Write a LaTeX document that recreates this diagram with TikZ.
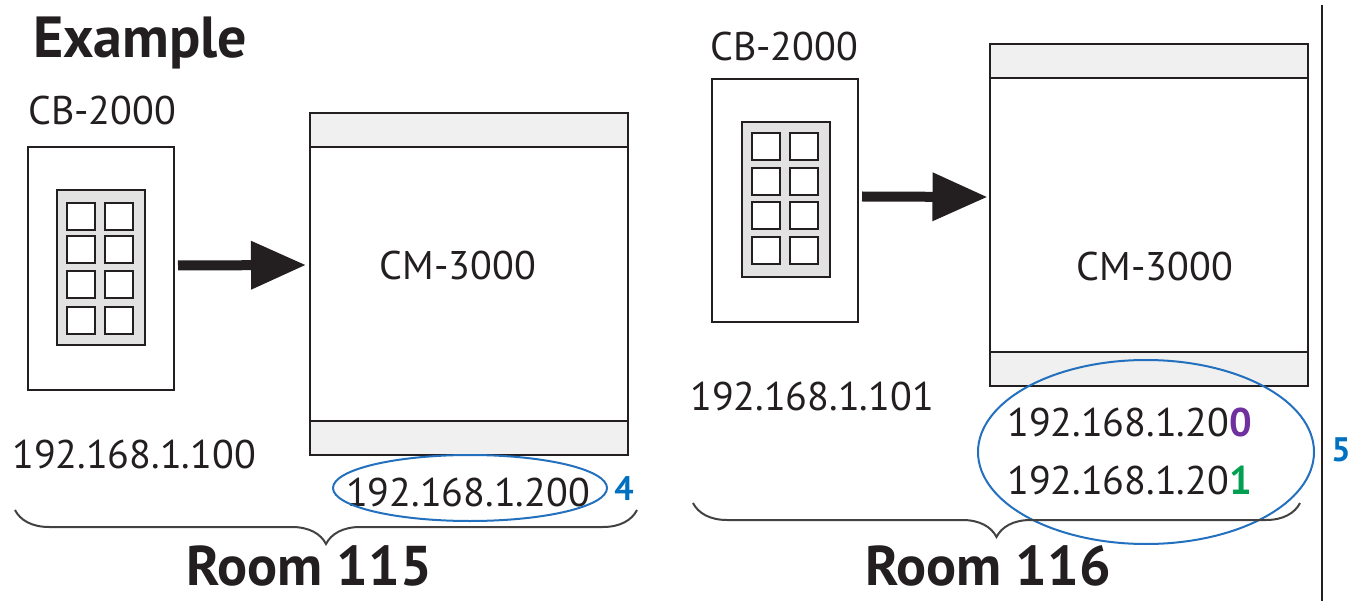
\documentclass[tikz,border=0pt]{standalone}
\usepackage{fontspec}
\setmainfont{PT Sans}
\usetikzlibrary{arrows.meta,decorations.pathreplacing,calc}
\definecolor{bandgray}{RGB}{240,240,240}
\definecolor{padgray}{RGB}{226,226,226}
\definecolor{ringblue}{RGB}{35,112,190}
\definecolor{numblue}{RGB}{0,112,192}
\definecolor{digpurple}{RGB}{112,48,160}
\definecolor{diggreen}{RGB}{0,160,80}
\definecolor{ink}{RGB}{35,31,32}
\tikzset{
  outline/.style={draw=ink,line width=2pt,inner sep=0pt,outer sep=0pt},
  cbbox/.style={outline,fill=white,minimum width=146pt,minimum height=243pt},
  padbox/.style={outline,fill=padgray,minimum width=88pt,minimum height=155pt},
  btn/.style={outline,fill=white,minimum width=28pt,minimum height=27pt},
  cmbox/.style={outline,fill=white,minimum width=318pt,minimum height=341pt},
  band/.style={outline,fill=bandgray,minimum width=318pt,minimum height=34pt},
  lbl/.style={inner sep=0pt,text=ink,font=\fontsize{40}{48}\selectfont},
  title/.style={inner sep=0pt,text=ink,font=\fontsize{58}{64}\selectfont\bfseries},
  room/.style={inner sep=0pt,text=ink,text depth=0pt,font=\fontsize{56}{62}\selectfont\bfseries},
  tag/.style={inner sep=0pt,text=numblue,font=\fontsize{34}{40}\selectfont\bfseries},
  ring/.style={draw=ringblue,line width=2pt},
  flow/.style={-{Triangle[length=55pt,width=46pt]},line width=10pt,draw=ink},
  roombrace/.style={draw=ink!85,line width=2pt,decorate,decoration={brace,mirror,amplitude=34pt,aspect=0.5}}
}
\begin{document}
\begin{tikzpicture}[x=1pt,y=-1pt]
\useasboundingbox (0,0) rectangle (1359,601);
% ---------- Room 115 ----------
\node[title,anchor=base west] (ex) at (33,58) {Example};
\node[lbl,anchor=base west] (cbLlbl) at (28,125) {CB-2000};
\node[cbbox] (cbL) at (101,268.5) {};
\node[padbox] (padL) at (101,267.5) {};
\foreach \r/\yy in {1/216.5,2/250,3/285,4/321}{
  \node[btn] (bL\r a) at (81,\yy) {};
  \node[btn] (bL\r b) at (119,\yy) {};
}
\node[cmbox] (cmL) at (469,284) {};
\node[band,anchor=north] (cmLtop) at (cmL.north) {};
\node[band,anchor=south] (cmLbot) at (cmL.south) {};
\node[lbl,anchor=base] (cmLlbl) at (458,280) {CM-3000};
\draw[flow] ($(cbL.east)+(4,-3)$) -- ($(cmL.west)+(-4,-19)$);
\node[lbl,anchor=base west] (ipL1) at (12,468) {192.168.1.100};
\node[lbl,anchor=base] (ipL2) at (468,506) {192.168.1.200};
\draw[ring] (470,488) ellipse [x radius=137pt,y radius=33pt];
\node[tag,anchor=base] (t4) at (624,500) {4};
\coordinate (brL1) at (15,510);
\coordinate (brL2) at (637,510);
\draw[roombrace] (brL1) -- (brL2);
\node[room,anchor=base] (roomL) at (309,585) {Room 115};
% ---------- Room 116 ----------
\node[lbl,anchor=base west] (cbRlbl) at (710,61) {CB-2000};
\node[cbbox] (cbR) at (785,200.5) {};
\node[padbox] (padR) at (785.5,200) {};
\foreach \r/\yy in {1/146.5,2/181.5,3/215.5,4/251}{
  \node[btn] (bR\r a) at (766,\yy) {};
  \node[btn] (bR\r b) at (804,\yy) {};
}
\node[cmbox] (cmR) at (1148.5,215) {};
\node[band,anchor=north] (cmRtop) at (cmR.north) {};
\node[band,anchor=south] (cmRbot) at (cmR.south) {};
\node[lbl,anchor=base] (cmRlbl) at (1155,281) {CM-3000};
\draw[flow] ($(cbR.east)+(4,-4)$) -- ($(cmR.west)+(-2,-18)$);
\node[lbl,anchor=base west] (ipR1) at (690,410) {192.168.1.101};
\node[lbl,anchor=base west] (ipR2) at (1007,436) {192.168.1.20\textcolor{digpurple}{\bfseries 0}};
\node[lbl,anchor=base west] (ipR3) at (1007,494) {192.168.1.20\textcolor{diggreen}{\bfseries 1}};
\draw[ring] (1146,452) ellipse [x radius=168pt,y radius=92pt];
\node[tag,anchor=base] (t5) at (1341,461) {5};
\coordinate (brR1) at (693,503);
\coordinate (brR2) at (1300,503);
\draw[roombrace] (brR1) -- (brR2);
\node[room,anchor=base] (roomR) at (988,585) {Room 116};
% divider
\coordinate (div1) at (1322,5);
\coordinate (div2) at (1322,601);
\draw[ink,line width=2pt] (div1) -- (div2);
\end{tikzpicture}
\end{document}
